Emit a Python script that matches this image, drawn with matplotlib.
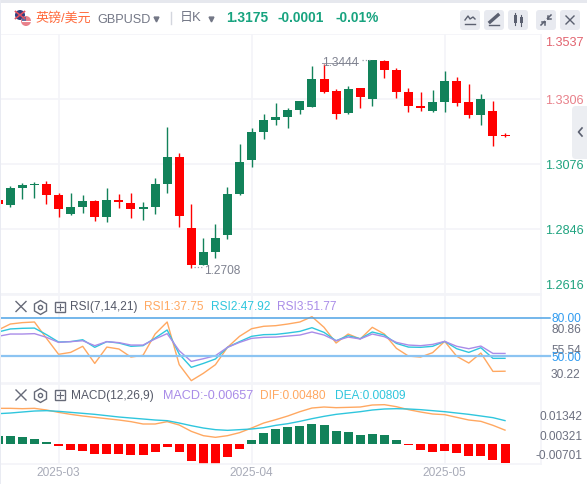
import numpy as np
import matplotlib
matplotlib.use("Agg")
import matplotlib.pyplot as plt
from matplotlib.patches import Rectangle, FancyBboxPatch, Circle

plt.rcParams['font.family'] = ['Liberation Sans', 'Noto Sans CJK SC', 'DejaVu Sans']

# ---- data (prices x 10000) ----
open_p = [12948,12931,12991,13002,13005,12966,12899,12924,12945,12888,12948,12938,12917,12924,13005,13101,12849,12718,12764,12825,12970,13090,13189,13232,13242,13267,13278,13377,13334,13256,13345,13306,13441,13409,13331,13281,13264,13295,13370,13295,13249,13264,13176]
close_p = [12934,12991,13002,13005,12966,12917,12924,12945,12888,12948,12941,12917,12924,13005,13101,12892,12718,12764,12814,12970,13083,13189,13232,13242,13267,13299,13377,13331,13253,13341,13313,13444,13409,13331,13281,13274,13295,13370,13292,13249,13306,13175,13175]
high_p = [12956,12998,13009,13012,13016,12973,12973,12966,12948,12991,12970,12973,12941,13026,13207,13115,12934,12814,12864,12994,13147,13203,13253,13292,13274,13299,13423,13430,13341,13352,13345,13444,13444,13416,13345,13331,13338,13405,13384,13359,13324,13299,13186]
low_p = [12931,12924,12952,12956,12934,12888,12895,12902,12874,12871,12920,12885,12878,12899,12973,12853,12708,12718,12743,12810,12966,13065,13164,13214,13203,13253,13278,13327,13235,13253,13274,13281,13380,13310,13260,13264,13260,13260,13281,13239,13214,13140,13171]

rsi1 = [70.3,75.0,76.1,76.6,63.7,51.1,52.6,57.4,43.9,56.8,55.3,48.9,50.3,67.1,76.6,42.9,30.3,36.1,42.9,56.6,65.3,71.3,73.2,73.7,75.0,76.6,80.8,72.4,60.0,67.1,63.2,72.4,67.1,55.8,49.7,48.9,52.4,61.3,49.5,44.2,52.1,37.6,37.75]
rsi2 = [68.7,71.1,71.6,71.8,66.6,60.8,61.1,62.6,56.6,61.1,60.0,57.4,57.9,63.9,70.3,51.3,40.8,43.9,47.4,56.6,61.1,65.3,66.6,66.8,67.9,69.2,72.1,68.4,61.8,65.8,63.4,68.7,66.3,59.7,56.8,56.6,57.4,61.3,55.5,52.6,56.3,47.9,47.92]
rsi3 = [65.3,67.1,67.1,67.4,64.5,60.5,61.1,61.8,57.9,61.1,60.3,58.4,58.4,63.2,67.4,53.9,45.5,47.6,50.0,56.6,60.5,63.7,64.5,64.7,65.5,66.3,68.7,66.3,61.8,64.7,63.2,67.1,65.0,60.5,58.4,57.9,58.9,61.3,57.4,55.5,57.6,51.8,51.77]

macd_hist = [.0029,.0028,.0024,.0017,.0007,-.0007,-.0021,-.0024,-.0035,-.0035,-.0035,-.0038,-.0038,-.0028,-.0010,-.0028,-.0059,-.0069,-.0069,-.0045,-.0017,.0014,.0038,.0052,.0059,.0062,.0069,.0066,.0045,.0042,.0031,.0035,.0031,.0014,-.0003,-.0021,-.0028,-.0024,-.0031,-.0042,-.0042,-.0055,-.00657]
dif = [.01234,.01234,.01222,.01234,.01176,.01095,.01026,.00969,.00922,.00876,.00830,.00773,.00692,.00692,.00773,.00657,.00438,.00288,.00231,.00288,.00392,.00553,.00726,.00842,.00969,.01118,.01245,.01280,.01257,.01268,.01280,.01349,.01361,.01291,.01188,.01107,.01038,.01015,.00922,.00830,.00784,.00646,.00480]
dea = [.01049,.01072,.01107,.01141,.01153,.01130,.01095,.01061,.01026,.00980,.00934,.00899,.00865,.00830,.00807,.00726,.00634,.00553,.00496,.00473,.00496,.00519,.00565,.00646,.00703,.00784,.00876,.00957,.01026,.01072,.01118,.01176,.01211,.01222,.01211,.01188,.01153,.01118,.01072,.01026,.00969,.00911,.00809]

month_idx = [4, 20, 36]
month_labels = ['2025-03', '2025-04', '2025-05']
price_ticks = [1.3306, 1.3076, 1.2846, 1.2616]

# ---- styles ----
UP, DOWN = '#12825a', '#ff0000'
C1, C2, C3 = '#ffa861', '#2fc6dd', '#a98ce8'
GRID = '#f3f4f8'
W, H = 587, 485
X0, SP = 10.3, 12.066
R = 541
FS = 12.6
FH = 11.9

fig = plt.figure(figsize=(W/100, H/100), dpi=100, facecolor='white')

def pane(top, bottom):
    ax = fig.add_axes([0, 1-bottom/H, R/W, (bottom-top)/H])
    ax.set_xlim(-X0/SP, (R-X0)/SP)
    ax.set_xticks([]); ax.set_yticks([])
    for s in ax.spines.values():
        s.set_color(GRID); s.set_linewidth(1.2)
    ax.spines['left'].set_visible(False)
    for m in month_idx:
        ax.axvline(m, color=GRID, lw=1.2, zorder=0)
    return ax

x = np.arange(-1, 42)
o, c = np.array(open_p)/1e4, np.array(close_p)/1e4
h, l = np.array(high_p)/1e4, np.array(low_p)/1e4

# main
ax = pane(35, 295)
ax.set_ylim(1.2616, 1.3536)
for p in price_ticks:
    ax.axhline(p, color=GRID, lw=1.2, zorder=0)
cols = [UP if b > a else DOWN for a, b in zip(o, c)]
ax.vlines(x, l, h, colors=cols, lw=1.0, zorder=2)
ax.bar(x, np.maximum(np.abs(c-o), 0.0003), bottom=np.minimum(o, c), width=0.746, color=cols, zorder=3, linewidth=0)

# RSI
ax2 = pane(296, 384)
ax2.set_ylim(28.45, 97.9)
ax2.plot(x, rsi1, color=C1, lw=1.0, zorder=3)
ax2.plot(x, rsi2, color=C2, lw=1.0, zorder=3)
ax2.plot(x, rsi3, color=C3, lw=1.0, zorder=3)
tr = ax2.get_yaxis_transform()
ax2.plot([0, 550/R], [80, 80], transform=tr, color='#4ea3e6', lw=1.1, clip_on=False, zorder=4)
ax2.plot([0, 550/R], [50, 50], transform=tr, color='#8cc4f2', lw=1.6, clip_on=False, zorder=4)

# MACD
ax3 = pane(385, 465)
ax3.set_ylim(-.00692, .02076)
ax3.bar(x, macd_hist, width=0.746, color=[UP if v > 0 else DOWN for v in macd_hist], linewidth=0, zorder=2)
ax3.plot(x, dif, color=C1, lw=1.0, zorder=3)
ax3.plot(x, dea, color=C2, lw=1.0, zorder=3)

# chrome / text overlay in pixel coordinates
ov = fig.add_axes([0, 0, 1, 1], facecolor='none')
ov.set_xlim(0, W); ov.set_ylim(H, 0); ov.axis('off')
ov.add_patch(Rectangle((0, 0), W, 3.5, color='#e6e8ee', lw=0))
ov.add_patch(Rectangle((0, 0), 1.2, H, color='#e9ebf2', lw=0))
ov.add_patch(Rectangle((1.2, 3.5), W, 31, color='white', lw=0))

def T(px, py, s, color, size, ha='left', weight='normal'):
    ov.text(px, py, s, color=color, fontsize=size*0.72, ha=ha, va='center', fontweight=weight)

# flags
ov.add_patch(Circle((20, 16), 5, color='#2f3f80', lw=0))
ov.plot([15.5, 24.5], [12.5, 19.5], color='#e05060', lw=1.2)
ov.plot([15.5, 24.5], [19.5, 12.5], color='#e05060', lw=1.2)
ov.add_patch(Circle((26, 22), 5, color='#e8808a', lw=0))
ov.plot([22, 30], [22, 22], color='white', lw=0.8)
ov.add_patch(Rectangle((21.5, 18), 4, 3.5, color='#5a6aa0', lw=0))

T(35, 18.5, '英镑/美元', '#ff6a3c', 13)
T(97, 20, 'GBPUSD', '#737786', 12.6)
ov.plot([156], [19.5], marker='v', ms=3.5, color='#737786')
ov.plot([170.5, 170.5], [13, 25], color='#d3d6de', lw=1)
T(180, 18, '日K', '#737786', 13)
ov.plot([211], [20], marker='v', ms=3.5, color='#737786')
T(226, 18, '1.3175', '#17a37f', 13.7, weight='bold')
T(277, 18, '-0.0001', '#17a37f', 13.7, weight='bold')
T(335, 18, '-0.01%', '#17a37f', 13.7, weight='bold')

for bx in (460, 484, 508, 536, 560):
    ov.add_patch(FancyBboxPatch((bx+2, 13), 16, 16, boxstyle='round,pad=2,rounding_size=3', fc='#e8eaf0', ec='none'))
IC = '#5b6070'
ov.plot([465, 468, 470, 473, 475], [21, 17, 20, 18, 20], color=IC, lw=1)
ov.plot([465, 475], [25, 25], color=IC, lw=1)
ov.plot([490, 498], [23, 16], color=IC, lw=2.4)
ov.plot([489, 499], [26, 26], color=IC, lw=1)
ov.add_patch(Rectangle((513.5, 16), 3, 8, color=IC, lw=0))
ov.plot([515, 515], [14, 26], color=IC, lw=0.8)
ov.add_patch(Rectangle((519.5, 18), 3, 6, color=IC, lw=0))
ov.plot([521, 521], [16, 27], color=IC, lw=0.8)
ov.plot([541, 544.5], [26, 22.5], color=IC, lw=1.1)
ov.plot([551, 547.5], [16, 19.5], color=IC, lw=1.1)
ov.plot([544.5, 541.5], [22.5, 22.5], color=IC, lw=1.1)
ov.plot([544.5, 544.5], [22.5, 25.5], color=IC, lw=1.1)
ov.plot([547.5, 550.5], [19.5, 19.5], color=IC, lw=1.1)
ov.plot([547.5, 547.5], [19.5, 16.5], color=IC, lw=1.1)
ov.plot([566, 574], [17, 25], color=IC, lw=1)
ov.plot([566, 574], [25, 17], color=IC, lw=1)

# right-hand side tab
ov.add_patch(FancyBboxPatch((575, 110), 20, 47, boxstyle='round,pad=3,rounding_size=4', fc='#eceef2', ec='none', clip_on=True))
ov.plot([582, 578.5, 582], [129, 133, 137], color='#5b6070', lw=1.2)

# price axis labels
RED_T, GRN_T = '#e2636f', '#1ea37f'
T(545, 43.5, '1.3537', RED_T, FS)
T(545, 101, '1.3306', '#e8808a', FS)
T(545, 166, '1.3076', GRN_T, FS)
T(545, 231, '1.2846', GRN_T, FS)
T(545, 286, '1.2616', GRN_T, FS)

# extremes
T(322, 63, '1.3444', '#7f8290', FH)
ov.plot([322, 358], [63.5, 63.5], color='#9a9ca8', lw=0.7)
ov.plot([362, 372], [61, 61], color='#9a9ca8', lw=0.9, ls=':')
T(204, 271, '1.2708', '#7f8290', FH)
ov.plot([194, 202], [268, 268], color='#9a9ca8', lw=0.9, ls=':')

# indicator headers
def head(py):
    ov.plot([16, 26], [py-5, py+5], color='#666a78', lw=1)
    ov.plot([16, 26], [py+5, py-5], color='#666a78', lw=1)
    ov.plot([40], [py], marker='h', ms=10, mfc='none', mec='#666a78', mew=1)
    ov.plot([40], [py], marker='o', ms=3, mfc='none', mec='#666a78', mew=1)
    ov.add_patch(Rectangle((55, py-5), 10, 10, fc='none', ec='#666a78', lw=1))
    ov.plot([57, 63], [py, py], color='#666a78', lw=0.8)
    ov.plot([60, 60], [py-3, py+3], color='#666a78', lw=0.8)

head(307.5)
T(70, 307.5, 'RSI(7,14,21)', '#555968', FH)
T(144, 307.5, 'RSI1:37.75', C1, FH)
T(211, 307.5, 'RSI2:47.92', C2, FH)
T(277, 307.5, 'RSI3:51.77', C3, FH)
head(396)
T(71, 396, 'MACD(12,26,9)', '#555968', FH)
T(163, 396, 'MACD:-0.00657', C3, FS)
T(260, 396, 'DIF:0.00480', C1, FH)
T(335, 396, 'DEA:0.00809', C2, FH)

# indicator axis labels
T(551, 330, '80.86', '#6c7080', FH)
T(551, 351.5, '55.54', '#6c7080', FH)
T(551, 375, '30.22', '#6c7080', FH)
T(551, 319, '80.00', '#2f9bf0', FH)
T(551, 358, '50.00', '#2f9bf0', FH)
T(582, 417.5, '0.01342', '#6c7080', FH, ha='right')
T(582, 437.5, '0.00321', '#6c7080', FH, ha='right')
T(582, 456.5, '-0.00701', '#6c7080', FH, ha='right')

# date labels
for m, s in zip(month_idx, month_labels):
    T(X0 + SP*m, 473, s, '#a8abb8', FH, ha='center')

fig.savefig('out.png', dpi=100)
